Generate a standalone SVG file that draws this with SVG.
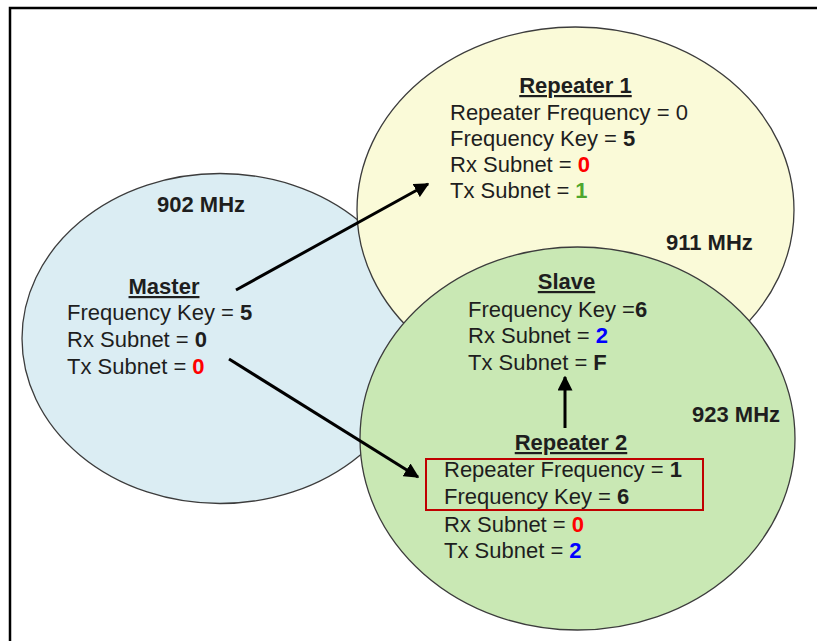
<svg xmlns="http://www.w3.org/2000/svg" width="817" height="641" viewBox="0 0 817 641">
  <defs>
    <style>
      text { font-family: "Liberation Sans", Arial, sans-serif; font-size: 22px; fill: #1e1e1e; }
      .b { font-weight: bold; }
      .title { font-weight: bold; text-anchor: middle; text-decoration: underline; }
      .freq { font-weight: bold; }
      .red { fill: #ff0000; font-weight: bold; }
      .blue { fill: #0000ff; font-weight: bold; }
      .green { fill: #4ea72e; font-weight: bold; }
      .zone { stroke: #3c3c3c; stroke-width: 1.3; }
      .conn { stroke: #000; stroke-width: 3; fill: none; marker-end: url(#ah); }
    </style>
    <marker id="ah" viewBox="0 0 10 10" refX="9" refY="5" markerWidth="5" markerHeight="5" markerUnits="strokeWidth" orient="auto">
      <path d="M0,0 L10,5 L0,10 Z" fill="#000"/>
    </marker>
  </defs>
  <rect width="817" height="641" fill="#ffffff"/>
  <path d="M10,641 L10,8 L817,8" fill="none" stroke="#000" stroke-width="2.5"/>

  <g id="master">
    <ellipse class="zone" cx="220" cy="338.5" rx="198" ry="165" fill="#dbedf3"/>
    <text class="b" x="157" y="212">902 MHz</text>
    <text class="title" x="164" y="294">Master</text>
    <text x="67" y="320">Frequency Key = <tspan class="b">5</tspan></text>
    <text x="67" y="347">Rx Subnet = <tspan class="b">0</tspan></text>
    <text x="67" y="374">Tx Subnet = <tspan class="red">0</tspan></text>
  </g>

  <g id="repeater1">
    <ellipse class="zone" cx="575.5" cy="210" rx="218.5" ry="183" fill="#fafad8"/>
    <text class="title" x="575.5" y="93">Repeater 1</text>
    <text x="450" y="120">Repeater Frequency = 0</text>
    <text x="450" y="146">Frequency Key = <tspan class="b">5</tspan></text>
    <text x="450" y="172">Rx Subnet = <tspan class="red">0</tspan></text>
    <text x="450" y="198">Tx Subnet = <tspan class="green">1</tspan></text>
    <text class="b" x="666" y="250">911 MHz</text>
  </g>

  <g id="slave-repeater2-zone">
    <ellipse class="zone" cx="577.5" cy="438.5" rx="217.5" ry="191.5" fill="#c9e8b4"/>
    <text class="b" x="692" y="422">923 MHz</text>
  </g>

  <g id="slave">
    <text class="title" x="566.5" y="289">Slave</text>
    <text x="468" y="317">Frequency Key =<tspan class="b">6</tspan></text>
    <text x="468" y="343">Rx Subnet = <tspan class="blue">2</tspan></text>
    <text x="468" y="370">Tx Subnet = <tspan class="b">F</tspan></text>
  </g>

  <g id="repeater2">
    <text class="title" x="571" y="450">Repeater 2</text>
    <rect x="426" y="459" width="277" height="51" fill="none" stroke="#c00000" stroke-width="2"/>
    <text x="444" y="477">Repeater Frequency = <tspan class="b">1</tspan></text>
    <text x="444" y="504">Frequency Key = <tspan class="b">6</tspan></text>
    <text x="444" y="532">Rx Subnet = <tspan class="red">0</tspan></text>
    <text x="444" y="558">Tx Subnet = <tspan class="blue">2</tspan></text>
  </g>

  <g id="connectors">
    <line class="conn" x1="236" y1="290" x2="428" y2="184"/>
    <line class="conn" x1="229" y1="359" x2="418" y2="477"/>
    <line class="conn" x1="565" y1="428" x2="565" y2="377"/>
  </g>
</svg>
